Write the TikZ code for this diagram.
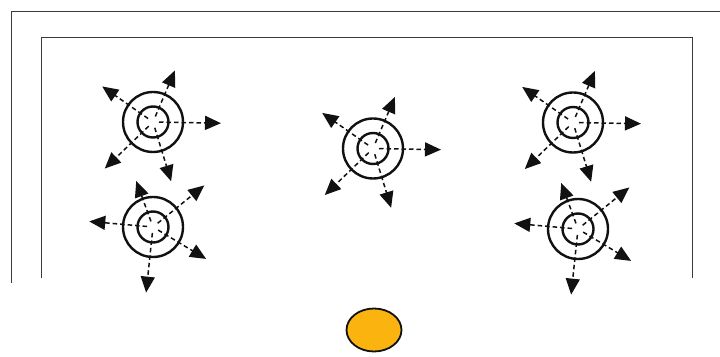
\documentclass[tikz,border=0pt]{standalone}
\usetikzlibrary{arrows.meta,calc,shapes.geometric}
\definecolor{ink}{HTML}{111111}
\definecolor{framegray}{HTML}{3A3A3A}
\definecolor{sunfill}{HTML}{FBB40F}
\tikzset{
  outerring/.style={
    circle,
    draw=ink,
    line width=2.4pt,
    minimum size=60pt,
    inner sep=0pt
  },
  innerring/.style={
    circle,
    draw=ink,
    line width=2.4pt,
    minimum size=31pt,
    inner sep=0pt
  },
  spray/.style={
    -{Triangle[length=16pt,width=14pt]},
    draw=ink,
    line width=1.5pt,
    dash pattern=on 4.5pt off 3pt
  },
  frameline/.style={
    draw=framegray,
    line width=1pt
  },
  sun/.style={
    ellipse,
    draw=ink,
    fill=sunfill,
    line width=1.8pt,
    minimum width=55pt,
    minimum height=43pt,
    inner sep=0pt
  }
}

\begin{document}
\begin{tikzpicture}[x=1pt,y=1pt]

  \useasboundingbox (0,0) rectangle (720,356);

  % Outer and inner frame lines.
  \coordinate (outerlow) at (11,73);
  \coordinate (outercorner) at (11,344);
  \coordinate (outerend) at (720,344);
  \coordinate (innerlowl) at (41,78);
  \coordinate (innerlowr) at (692,78);
  \draw[frameline] (outerlow) -- (outercorner) -- (outerend);
  \draw[frameline] (innerlowl) -- (innerlowl |- 0,318) -- (innerlowr |- 0,318) -- (innerlowr);

  % Emitters (double rings).
  \node[outerring] (emitUL) at (153,234) {};
  \node[outerring] (emitLL) at (153,129) {};
  \node[outerring] (emitMid) at (373,207.5) {};
  \node[outerring] (emitUR) at (573,233.5) {};
  \node[outerring] (emitLR) at (578,127) {};

  \node[innerring] (emitUL-in) at (emitUL) {};
  \node[innerring] (emitLL-in) at (emitLL) {};
  \node[innerring] (emitMid-in) at (emitMid) {};
  \node[innerring] (emitUR-in) at (emitUR) {};
  \node[innerring] (emitLR-in) at (emitLR) {};

  % Radiating dashed arrows.
  \foreach \src in {emitUL,emitMid,emitUR}
    \foreach \ang/\len in {145/62,67/56,-1/68,-136/67,-73/62}
      \draw[spray] ($(\src)+(\ang:6)$) -- ($(\src)+(\ang:\len)$);

  \foreach \src in {emitLL,emitLR}
    \foreach \ang/\len in {110/49,39/66,175/64,-31/62,-96/66}
      \draw[spray] ($(\src)+(\ang:6)$) -- ($(\src)+(\ang:\len)$);

  \node[sun] (target) at (374,26) {};

\end{tikzpicture}
\end{document}
